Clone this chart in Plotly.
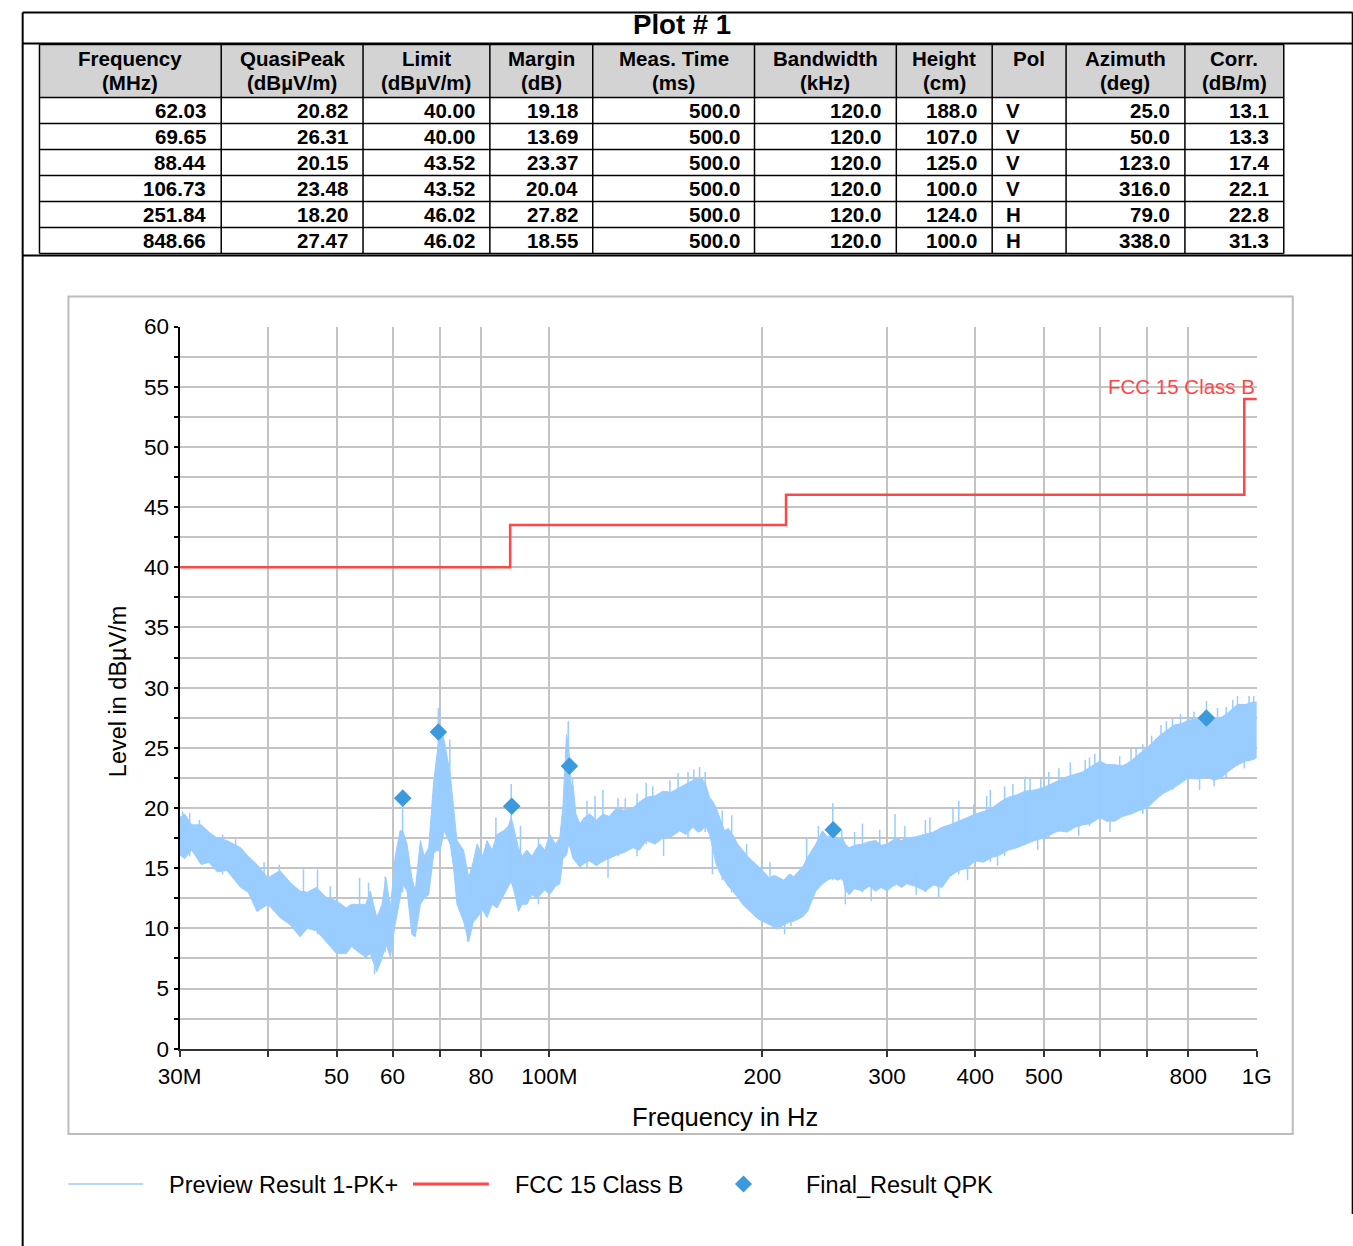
import plotly.graph_objects as go

# The photographed picture maps page pixels as X = SX*page_x + BX, Y = SY*page_y + BY
# (measured on earlier renders); layout positions below are given in picture pixels of
# the reference and converted back to page pixels.
SX, BX = 0.9743, 19.5
SY, BY = 0.9796, 11.6
FS = 1 / 0.977  # font scale compensation
W, H = 1369, 1261

# ---------------- table data (final results) ----------------
final_freq_mhz = [62.03, 69.65, 88.44, 106.73, 251.84, 848.66]
final_qp = [20.82, 26.31, 20.15, 23.48, 18.20, 27.47]
final_limit = [40.00, 40.00, 43.52, 43.52, 46.02, 46.02]
final_margin = [19.18, 13.69, 23.37, 20.04, 27.82, 18.55]
meas_time_ms = [500.0, 500.0, 500.0, 500.0, 500.0, 500.0]
bandwidth_khz = [120.0, 120.0, 120.0, 120.0, 120.0, 120.0]
height_cm = [188.0, 107.0, 125.0, 100.0, 124.0, 100.0]
pol = ["V", "V", "V", "V", "H", "H"]
azimuth_deg = [25.0, 50.0, 123.0, 316.0, 79.0, 338.0]
corr_dbm = [13.1, 13.3, 17.4, 22.1, 22.8, 31.3]

header_top = ["Frequency", "QuasiPeak", "Limit", "Margin", "Meas. Time", "Bandwidth",
              "Height", "Pol", "Azimuth", "Corr."]
header_bottom = ["(MHz)", "(dBµV/m)", "(dBµV/m)", "(dB)", "(ms)", "(kHz)", "(cm)", "",
                 "(deg)", "(dB/m)"]

# ---------------- limit line (FCC 15 Class B) ----------------
limit_freq_mhz = [30, 88, 216, 960, 1000]
limit_db = [40.0, 43.52, 46.02, 53.98, 53.98]

# ---------------- preview scan envelope ----------------
pk_freq_mhz = [30.0, 30.5, 31.2, 32.2, 33.0, 33.9, 35.0, 36.6, 37.5, 38.6, 40.0, 41.6, 43.0, 44.4,
               45.5, 46.8, 48.5, 50.0, 51.6, 52.5, 53.5, 55.0, 55.8, 57.0, 58.0, 58.7, 59.6, 60.5,
               61.5, 62.0, 62.9, 63.9, 64.6, 65.7, 66.5, 67.5, 68.6, 69.3, 70.0, 71.0, 72.4, 73.2,
               74.0, 75.6, 76.9, 78.0, 79.0, 80.5, 81.6, 83.0, 84.3, 86.1, 87.5, 88.3, 89.2, 90.4,
               91.5, 92.9, 94.5, 96.0, 97.0, 98.5, 100.1, 102.0, 103.4, 104.5, 105.7, 106.5, 107.2,
               108.0, 109.0, 110.4, 112.0, 114.0, 116.5, 119.0, 121.5, 124.4, 127.5, 131.2, 134.0,
               137.1, 141.0, 144.7, 148.5, 152.8, 156.0, 159.5, 162.0, 164.0, 166.2, 168.4, 170.3,
               172.1, 174.5, 176.9, 179.0, 181.5, 184.5, 187.5, 190.5, 193.7, 197.0, 200.0, 204.5,
               208.0, 211.2, 214.5, 218.2, 221.5, 225.4, 228.5, 231.6, 235.0, 238.0, 243.2, 247.0,
               251.5, 255.5, 259.5, 262.0, 265.2, 270.0, 277.0, 283.0, 289.2, 294.5, 300.0, 308.7,
               314.5, 320.0, 329.0, 339.9, 349.0, 358.9, 368.0, 378.9, 389.0, 400.0, 411.0, 422.3,
               433.5, 445.6, 458.0, 470.4, 485.0, 499.5, 512.0, 524.5, 539.0, 553.6, 567.0, 581.4,
               600.0, 614.0, 629.2, 646.0, 664.0, 682.0, 700.0, 716.0, 732.0, 748.0, 764.5, 782.0,
               800.0, 824.0, 848.7, 870.0, 890.0, 914.0, 939.0, 965.0, 985.0, 1000.0]
pk_lo = [16.1, 15.8, 16.5, 15.3, 15.5, 14.7, 14.8, 13.4, 13.0, 11.4, 12.0, 10.9, 10.3, 9.3,
         10.0, 9.8, 8.8, 7.9, 7.9, 8.5, 8.1, 7.6, 7.9, 6.4, 7.5, 8.7, 7.6, 10.3,
         12.5, 13.7, 13.1, 9.5, 9.3, 12.0, 12.5, 12.8, 16.2, 16.5, 16.4, 18.1, 17.0, 15.0,
         12.0, 10.6, 8.9, 10.5, 10.9, 11.5, 10.9, 12.0, 11.7, 12.8, 13.5, 13.9, 13.0, 11.4,
         12.0, 12.0, 12.8, 12.5, 12.8, 13.2, 12.8, 13.5, 13.7, 15.8, 16.1, 17.0, 16.5,
         15.8, 15.5, 15.1, 15.4, 15.6, 15.2, 15.6, 15.8, 16.1, 16.3, 16.7, 16.5,
         17.3, 17.0, 17.5, 17.6, 18.1, 17.8, 18.4, 18.0, 18.1, 18.5, 17.8, 16.5,
         15.3, 14.5, 13.9, 13.5, 13.1, 12.6, 12.0, 11.6, 11.2, 10.8, 10.6, 10.3,
         10.1, 10.0, 10.3, 10.5, 10.6, 10.8, 11.0, 11.4, 12.3, 13.1, 13.7, 14.0,
         14.2, 14.0, 14.2, 13.2, 12.8, 13.3, 13.1, 13.5, 13.1, 13.4, 13.1, 13.7,
         13.4, 13.7, 13.5, 13.1, 13.6, 13.4, 14.3, 14.8, 15.0, 15.6, 15.5, 15.9,
         16.1, 16.5, 16.7, 17.0, 17.3, 17.5, 17.8, 18.1, 18.0, 18.4, 18.6, 18.7,
         19.2, 18.9, 18.9, 19.3, 19.5, 19.8, 20.0, 20.6, 21.1, 21.4, 21.7, 22.1,
         22.5, 22.4, 22.6, 22.3, 22.5, 23.1, 23.6, 23.9, 24.0, 24.2]
pk_hi = [19.2, 19.5, 18.6, 18.6, 18.0, 17.5, 17.3, 16.7, 16.0, 15.3, 14.2, 14.8, 13.8, 13.1,
         13.0, 13.4, 12.5, 12.3, 11.7, 12.0, 12.0, 12.0, 13.1, 10.9, 12.0, 14.2, 11.7, 15.9,
         18.1, 18.1, 17.0, 14.2, 13.1, 17.3, 16.0, 16.7, 22.2, 24.5, 26.4, 25.6, 22.8, 20.0,
         17.3, 16.5, 14.2, 15.5, 17.0, 16.0, 17.3, 16.5, 17.8, 18.1, 18.5, 19.2, 18.0, 16.7,
         16.0, 16.5, 16.0, 16.7, 17.0, 16.5, 17.8, 17.0, 17.5, 20.2, 26.1, 25.0, 22.0,
         21.9, 19.5, 18.7, 19.2, 19.5, 19.0, 19.5, 19.3, 20.0, 19.8, 20.0, 20.5,
         20.9, 21.0, 21.4, 21.3, 21.7, 22.0, 22.3, 22.4, 22.5, 22.0, 20.9, 20.5,
         20.0, 19.0, 18.1, 18.3, 17.8, 17.0, 16.5, 16.0, 15.6, 15.2, 14.8, 14.2,
         14.4, 14.2, 14.0, 14.5, 14.3, 14.8, 15.2, 15.9, 16.5, 17.0, 18.1, 17.6,
         17.8, 17.5, 17.5, 17.0, 16.7, 16.9, 17.0, 17.2, 17.3, 16.9, 17.0, 17.5,
         17.3, 17.5, 17.6, 17.8, 18.0, 18.4, 18.6, 18.9, 19.2, 19.5, 19.7, 20.0,
         20.5, 20.9, 21.1, 21.4, 21.5, 21.7, 22.0, 22.3, 22.6, 22.8, 23.0, 23.4,
         23.9, 23.6, 23.6, 23.5, 23.9, 24.5, 25.0, 25.6, 26.1, 26.5, 26.9, 27.0,
         27.3, 27.4, 27.6, 27.4, 27.5, 28.0, 28.6, 28.6, 28.8, 28.8]

# individual spikes of the preview scan: frequency, spike bottom, spike top
spike_freq_mhz = [30.3, 31.0, 32.0, 34.5, 36.0, 39.5, 41.5, 44.9, 47.0, 49.0, 53.9, 55.5, 56.6,
                  58.6, 62.0, 69.65, 70.7, 72.3, 76.6, 77.5, 84.0, 88.3, 91.0, 96.5, 105.8,
                  106.3, 107.8, 119.0, 125.0, 137.0, 152.0, 163.0, 166.0, 175.5, 181.0, 199.5,
                  209.5, 219.5, 231.0, 251.5, 259.0, 277.0, 308.0, 340.0, 379.0, 420.0, 470.0,
                  525.0, 600.0, 664.0, 732.0, 800.0, 848.7, 939.0, 990.0,
                  121.0, 145.0, 170.0, 215.0, 262.0, 285.0, 330.0, 355.0, 390.0, 430.0, 490.0,
                  560.0, 620.0, 700.0, 830.0, 870.0, 960.0, 113.0, 133.0, 157.0, 440.0, 508.0,
                  580.0, 690.0, 760.0, 905.0,
                  345.0, 372.0, 398.0, 415.0, 452.0, 478.0, 495.0, 545.0, 572.0, 590.0, 640.0,
                  675.0, 710.0, 745.0, 780.0, 815.0, 880.0, 925.0, 975.0, 140.0, 128.0, 116.0,
                  148.0, 160.0, 190.0, 205.0, 240.0, 270.0, 293.0, 318.0]
spike_low = [16.0, 16.0, 15.5, 14.5, 14.0, 12.0, 11.0, 10.0, 9.5, 9.0, 8.5, 8.0, 6.2,
             8.0, 13.0, 17.0, 18.0, 17.0, 8.9, 9.8, 12.0, 14.0, 12.0, 12.0, 17.0,
             17.0, 16.0, 15.5, 16.0, 17.0, 18.0, 18.0, 18.0, 14.0, 13.0, 10.4,
             9.9, 10.2, 12.0, 14.0, 14.0, 13.0, 13.5, 13.0, 14.5, 15.5, 17.0,
             18.0, 19.0, 19.5, 21.0, 22.5, 22.5, 23.5, 24.0,
             14.2, 16.0, 14.5, 9.5, 12.0, 12.3, 12.8, 12.6, 14.0, 15.2, 16.5,
             17.7, 18.0, 19.2, 21.5, 21.8, 23.3, 15.0, 16.0, 17.5, 16.0, 17.5,
             18.5, 19.5, 21.5, 22.5,
             17.5, 18.5, 19.0, 19.5, 20.5, 21.0, 21.5, 22.5, 22.8, 23.2, 23.5,
             23.8, 24.5, 26.0, 26.5, 27.0, 27.0, 27.8, 28.4, 20.5, 19.5, 19.0,
             21.0, 22.0, 15.5, 14.0, 16.5, 16.5, 16.5, 17.0]
spike_top = [19.7, 19.6, 19.0, 17.8, 17.4, 15.5, 15.3, 14.9, 14.9, 13.5, 14.2, 13.8, 10.0,
             14.3, 20.2, 28.3, 26.5, 25.7, 13.0, 15.0, 19.2, 22.0, 18.5, 17.5, 25.9,
             27.2, 22.4, 21.5, 20.8, 22.1, 22.9, 23.4, 23.0, 19.8, 19.4, 15.5,
             13.0, 14.5, 17.5, 20.4, 18.1, 18.7, 19.5, 19.0, 20.6, 21.5, 22.6,
             23.3, 24.6, 24.9, 26.9, 27.8, 28.9, 29.3, 29.3,
             17.0, 19.0, 18.0, 12.0, 15.0, 15.0, 15.0, 15.0, 17.0, 18.0, 19.0,
             20.0, 21.0, 22.0, 24.0, 24.0, 26.0, 20.6, 21.2, 23.0, 21.8, 23.0,
             24.2, 25.3, 27.4, 28.4,
             19.2, 20.0, 20.3, 21.0, 22.0, 22.5, 22.4, 23.8, 24.0, 24.5, 24.3,
             25.0, 26.0, 27.2, 27.8, 28.0, 28.3, 29.0, 29.3, 21.8, 20.8, 21.0,
             22.3, 23.2, 17.0, 15.5, 18.5, 18.0, 18.2, 18.5]

# ---------------- axis ticks ----------------
x_tickvals = [30, 40, 50, 60, 70, 80, 100, 200, 300, 400, 500, 600, 700, 800, 1000]
x_ticktext = ["30M", "", "50", "60", "", "80", "100M", "200", "300", "400", "500", "", "", "800", "1G"]
y_tickvals = [0, 5, 10, 15, 20, 25, 30, 35, 40, 45, 50, 55, 60]

# ---------------- styling ----------------
FONT = "Liberation Sans, Arial, sans-serif"
PK_COLOR = "#99ccff"
LIM_COLOR = "#ff4747"
QP_COLOR = "#3b99dd"
GRID = "#c4c4c4"

col_edges = [37, 219, 361, 488, 591, 753, 895, 991, 1065, 1184, 1283]
row_edges = [97, 123, 149, 175, 201, 227, 253]


def px(X):
    return max(0.0005, (X - BX) / SX / W)


def py(Y):
    return min(0.9995, 1 - (Y - BY) / SY / H)


def fs(s):
    return round(s * FS, 1)


fig = go.Figure()

fig.add_trace(go.Scatter(x=pk_freq_mhz, y=pk_hi, mode="lines",
                         line=dict(color=PK_COLOR, width=1), showlegend=False, hoverinfo="skip"))
fig.add_trace(go.Scatter(x=pk_freq_mhz, y=pk_lo, mode="lines", fill="tonexty",
                         fillcolor=PK_COLOR, line=dict(color=PK_COLOR, width=1),
                         showlegend=False, hoverinfo="skip"))
sx, sy = [], []
for f, lo, hi in zip(spike_freq_mhz, spike_low, spike_top):
    sx += [f, f, None]
    sy += [lo, hi, None]
fig.add_trace(go.Scatter(x=sx, y=sy, mode="lines", line=dict(color=PK_COLOR, width=1.5),
                         showlegend=False, hoverinfo="skip"))

fig.add_trace(go.Scatter(x=limit_freq_mhz, y=limit_db, mode="lines", line_shape="hv",
                         line=dict(color=LIM_COLOR, width=2.5), showlegend=False, hoverinfo="skip"))

fig.add_trace(go.Scatter(x=final_freq_mhz, y=final_qp, mode="markers",
                         marker=dict(symbol="diamond", size=13.5, color=QP_COLOR),
                         showlegend=False))

shapes = []
annotations = []


def pline(x0, y0, x1, y1, color="black", width=2):
    shapes.append(dict(type="line", xref="paper", yref="paper", x0=px(x0), y0=py(y0),
                       x1=px(x1), y1=py(y1), line=dict(color=color, width=width)))


def ptext(text, x, y, size, xanchor="center", yanchor="middle", color="black", angle=0):
    annotations.append(dict(text=text, x=px(x), y=py(y), xref="paper", yref="paper",
                            xanchor=xanchor, yanchor=yanchor, showarrow=False, textangle=angle,
                            font=dict(family=FONT, size=fs(size), color=color)))


shapes.append(dict(type="rect", xref="paper", yref="paper", x0=px(col_edges[0]), y0=py(row_edges[0]),
                   x1=px(col_edges[-1]), y1=py(44), fillcolor="#d3d3d3", line=dict(width=0),
                   layer="below"))
for xe in col_edges:
    pline(xe, 44, xe, row_edges[-1], width=1.5)
for ye in [44] + row_edges:
    pline(col_edges[0], ye, col_edges[-1], ye, width=1.5)

table_cols = [
    [f"{v:.2f}" for v in final_freq_mhz],
    [f"{v:.2f}" for v in final_qp],
    [f"{v:.2f}" for v in final_limit],
    [f"{v:.2f}" for v in final_margin],
    [f"{v:.1f}" for v in meas_time_ms],
    [f"{v:.1f}" for v in bandwidth_khz],
    [f"{v:.1f}" for v in height_cm],
    list(pol),
    [f"{v:.1f}" for v in azimuth_deg],
    [f"{v:.1f}" for v in corr_dbm],
]
for ci in range(len(header_top)):
    xl, xr = col_edges[ci], col_edges[ci + 1]
    xc = (xl + xr) / 2
    ptext("<b>" + header_top[ci] + "</b>", xc, 58, 20)
    if header_bottom[ci]:
        ptext("<b>" + header_bottom[ci] + "</b>", xc, 82, 20)
    for ri, val in enumerate(table_cols[ci]):
        yc = (row_edges[ri] + row_edges[ri + 1]) / 2
        if ci == 7:
            ptext("<b>" + val + "</b>", xl + 12, yc, 20, xanchor="left")
        else:
            ptext("<b>" + val + "</b>", xr - 13, yc, 20, xanchor="right")

ptext("<b>Plot # 1</b>", 680, 24, 27)

# outer frame
for (x0, y0, x1, y1) in [(8, 5, 1352, 5), (8, 5, 8, 1246), (1352, 5, 1352, 1213),
                         (8, 43, 1352, 43), (8, 255, 1352, 255)]:
    pline(x0, y0, x1, y1)
shapes.append(dict(type="rect", xref="paper", yref="paper", x0=px(66), y0=py(1133),
                   x1=px(1292), y1=py(296), line=dict(color="#bdbdbd", width=2)))

ptext("Level in dBµV/m", 115, 690, 23, angle=-90)
ptext("Frequency in Hz", 723, 1116, 25)
annotations.append(dict(text="FCC 15 Class B", x=3.0, y=55, xref="x", yref="y", xanchor="right",
                        yanchor="middle", showarrow=False,
                        font=dict(family=FONT, size=fs(20), color=LIM_COLOR)))

pline(66, 1183, 141, 1183, color="#b4d8fa", width=2)
ptext("Preview Result 1-PK+", 165, 1184, 23, xanchor="left")
pline(411, 1183, 487, 1183, color=LIM_COLOR, width=3)
ptext("FCC 15 Class B", 511, 1184, 23, xanchor="left")
cx, cy, r = 742, 1183, 8.5
shapes.append(dict(type="path", xref="paper", yref="paper",
                   path=f"M {px(cx - r)},{py(cy)} L {px(cx)},{py(cy - r)} L {px(cx + r)},{py(cy)} "
                        f"L {px(cx)},{py(cy + r)} Z",
                   fillcolor=QP_COLOR, line=dict(color=QP_COLOR, width=0)))
ptext("Final_Result QPK", 803, 1184, 23, xanchor="left")

fig.update_layout(
    width=W, height=H, margin=dict(l=0, r=0, t=0, b=0),
    paper_bgcolor="white", plot_bgcolor="white",
    font=dict(family=FONT, color="black"),
    showlegend=False, shapes=shapes, annotations=annotations,
    xaxis=dict(type="log", range=[1.4771213, 3.0], domain=[px(177.3), px(1256)],
               tickvals=x_tickvals, ticktext=x_ticktext, showgrid=True, gridcolor=GRID,
               gridwidth=1.5, showline=True, linecolor="#333333", linewidth=2,
               ticks="outside", ticklen=6, tickwidth=1.5, tickcolor="#333333",
               tickfont=dict(family=FONT, size=fs(22), color="black"), ticklabelstandoff=0,
               zeroline=False),
    yaxis=dict(range=[0, 60], domain=[py(1047.7), py(326)], tickvals=y_tickvals,
               showgrid=True, gridcolor=GRID, gridwidth=1.5, showline=True,
               linecolor="black", linewidth=2, ticks="outside", ticklen=4, tickwidth=1.5,
               tickcolor="black", tickfont=dict(family=FONT, size=fs(22), color="black"),
               minor=dict(dtick=2.5, tick0=0, showgrid=True, gridcolor=GRID, gridwidth=1.5,
                          ticks="outside", ticklen=4, tickwidth=1.5, tickcolor="black"),
               zeroline=False),
)

fig.write_html("out.html", config={"displayModeBar": False},
               post_script="document.body.style.margin='0px';")
